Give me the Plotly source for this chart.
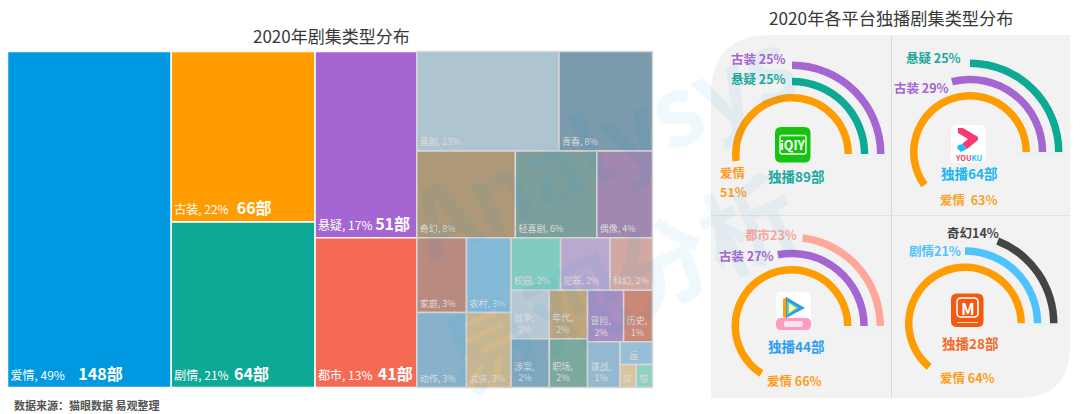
import plotly.graph_objects as go

W, H = 1080, 414
FONT = "Noto Sans CJK SC"
NB = "\u00a0"

# treemap tiles (area ~ number of dramas)
tile_labels = ["爱情", "古装", "剧情", "悬疑", "都市", "喜剧", "青春", "奇幻", "轻喜剧", "偶像",
               "家庭", "动作", "农村", "武侠", "校园", "犯罪", "科幻", "战争", "涉案", "年代", "职场",
               "冒险", "历史", "谍战", "运", "穿", "惊"]
tile_values = [148, 66, 64, 51, 41, 38, 25, 23, 19, 13,
               10, 10, 9, 9, 7, 7, 6, 5, 5, 5, 5,
               5, 4, 4, 2, 1, 1]
tile_text = [f"爱情, 49%{NB*5}<b><span style='font-size:16px'>148部</span></b>",
             f"古装, 22%{NB*3}<b><span style='font-size:16px'>66部</span></b>",
             f"剧情, 21%{NB*2}<b><span style='font-size:16px'>64部</span></b>",
             f"悬疑, 17%{NB}<b><span style='font-size:16px'>51部</span></b>",
             f"都市, 13%{NB*2}<b><span style='font-size:16px'>41部</span></b>",
             "喜剧, 13%", "青春, 8%", "奇幻, 8%", "轻喜剧, 6%", "偶像, 4%",
             "家庭, 3%", "动作, 3%", "农村, 3%", "武侠, 3%", "校园, 2%", "犯罪, 2%", "科幻, 2%",
             f"战争,<br>{NB*2}2%", f"涉案,<br>{NB*2}2%", f"年代,<br>{NB*2}2%", f"职场,<br>{NB*2}2%",
             f"冒险,<br>{NB*2}2%", f"历史,<br>{NB*2}1%", f"谍战,<br>{NB*2}1%", f"{NB*3}运", "穿", "惊"]
tile_colors = ["#0098E0", "#FF9C00", "#0CAA95", "#A566D2", "#F56A55",
               "#AFC4D1", "#7B9AAB", "#AD9878", "#7C9F9B", "#A088AE",
               "#B98A80", "#88B2CB", "#85B9D8", "#D2B88D", "#82CBC0", "#B9A9CF", "#D1A9A2",
               "#B8C8D4", "#7FA8BE", "#BFA67C", "#7BA99E",
               "#A88EC2", "#C98878", "#94B8CF", "#99BFD6", "#DCC3A0", "#90D0C5"]

# nesting of the tiles: (node, parent), children listed in drawing order
tree = [("root", ""), ("爱情", "root"),
        ("g1", "root"), ("古装", "g1"), ("剧情", "g1"),
        ("g2", "root"), ("悬疑", "g2"), ("都市", "g2"),
        ("others", "root"),
        ("row1", "others"), ("喜剧", "row1"), ("青春", "row1"),
        ("row2", "others"), ("奇幻", "row2"), ("轻喜剧", "row2"), ("偶像", "row2"),
        ("row3", "others"),
        ("col1", "row3"), ("家庭", "col1"), ("动作", "col1"),
        ("col2", "row3"), ("农村", "col2"), ("武侠", "col2"),
        ("right", "row3"),
        ("top", "right"), ("校园", "top"), ("犯罪", "top"), ("科幻", "top"),
        ("bottom", "right"),
        ("c_war", "bottom"), ("战争", "c_war"), ("涉案", "c_war"),
        ("c_era", "bottom"), ("年代", "c_era"), ("职场", "c_era"),
        ("third", "bottom"),
        ("r_adv", "third"), ("冒险", "r_adv"), ("历史", "r_adv"),
        ("r_spy", "third"), ("谍战", "r_spy"),
        ("q", "r_spy"), ("运", "q"),
        ("pair", "q"), ("穿", "pair"), ("惊", "pair")]

# ring panels: arcs as drawn in the picture (percent of a full circle), labels as printed
platform_names = ["iqiyi", "youku", "tencent", "mango"]
iqiyi_arcs = [52, 25, 25]
youku_arcs = [60, 29, 25]
tencent_arcs = [66, 28, 23]
mango_arcs = [64, 25, 19]
iqiyi_colors = ["#FF9C00", "#0CAA95", "#A566D2"]
youku_colors = ["#FF9C00", "#A566D2", "#0CAA95"]
tencent_colors = ["#FF9C00", "#A566D2", "#FFA79B"]
mango_colors = ["#FF9C00", "#4FC3FF", "#444444"]


def px(x):
    return x / W


def py(y):
    return 1 - y / H


def rounded(x0, y0, x1, y1, r):
    return (f"M{px(x0 + r)},{py(y0)} L{px(x1 - r)},{py(y0)} Q{px(x1)},{py(y0)} {px(x1)},{py(y0 + r)} "
            f"L{px(x1)},{py(y1 - r)} Q{px(x1)},{py(y1)} {px(x1 - r)},{py(y1)} L{px(x0 + r)},{py(y1)} "
            f"Q{px(x0)},{py(y1)} {px(x0)},{py(y1 - r)} L{px(x0)},{py(y0 + r)} Q{px(x0)},{py(y0)} {px(x0 + r)},{py(y0)} Z")


def poly(points):
    return "M" + " L".join(f"{px(x)},{py(y)}" for x, y in points) + " Z"


def path_shape(path, color, line_color=None, line_width=0, layer="above"):
    return dict(type="path", xref="paper", yref="paper", path=path, fillcolor=color, layer=layer,
                line=dict(color=line_color or color, width=line_width))


def hline(x0, x1, y, color, layer="above"):
    return dict(type="line", xref="paper", yref="paper", x0=px(x0), x1=px(x1), y0=py(y), y1=py(y),
                line=dict(color=color, width=1), layer=layer)


def note(x, y, text, color, size=12.5, anchor="center", bold=True, angle=0, opacity=1):
    return dict(x=px(x), y=py(y), xref="paper", yref="paper", text=f"<b>{text}</b>" if bold else text,
                showarrow=False, xanchor=anchor, yanchor="middle", textangle=angle, opacity=opacity,
                font=dict(family=FONT, size=size, color=color))


fig = go.Figure()

# treemap, nested groups + slice/dice packing reproduces the original tile arrangement
CLEAR = "rgba(0,0,0,0)"
ids, parents, values, texts, fills, line_colors, line_widths, text_colors, text_sizes = [], [], [], [], [], [], [], [], []
for node, parent in tree:
    ids.append(node)
    parents.append(parent)
    if node in tile_labels:
        i = tile_labels.index(node)
        top_five = i < 5
        values.append(tile_values[i])
        texts.append(tile_text[i])
        fills.append(tile_colors[i])
        line_colors.append("#FFFFFF" if top_five else "#D6D6D6")
        line_widths.append(1.5)
        text_colors.append("#FFFFFF" if top_five else "#DCDCDC")
        text_sizes.append(12 if top_five else 9)
    else:
        values.append(0)
        texts.append("")
        fills.append(CLEAR)
        line_colors.append(CLEAR)
        line_widths.append(0)
        text_colors.append("#FFFFFF")
        text_sizes.append(9)

fig.add_trace(go.Treemap(
    ids=ids,
    labels=ids,
    parents=parents,
    values=values,
    branchvalues="remainder",
    sort=False,
    text=texts,
    texttemplate="%{text}",
    textposition="bottom left",
    textfont=dict(family=FONT, size=text_sizes, color=text_colors),
    hoverinfo="skip",
    tiling=dict(packing="slice-dice", pad=0),
    pathbar=dict(visible=False),
    marker=dict(colors=fills, pad=dict(t=0, l=0, r=0, b=0),
                line=dict(color=line_colors, width=line_widths)),
    domain=dict(x=[px(7.5), px(652.5)], y=[py(387.5), py(51.5)]),
))

# rings
R = 95
RING_BASE = [52.5, 68.8, 85]
RING_WIDTH = 7.5
centers = {"iqiyi": (792, 154), "youku": (970, 152), "tencent": (791.5, 326), "mango": (965, 323.5)}
arcs = {"iqiyi": iqiyi_arcs, "youku": youku_arcs, "tencent": tencent_arcs, "mango": mango_arcs}
colors = {"iqiyi": iqiyi_colors, "youku": youku_colors, "tencent": tencent_colors, "mango": mango_colors}
polar_layout = {}
for i, name in enumerate(platform_names):
    sub = "polar" if i == 0 else f"polar{i + 1}"
    cx, cy = centers[name]
    fig.add_trace(go.Barpolar(
        r=[RING_WIDTH] * 3,
        base=RING_BASE,
        theta=[v * 1.8 for v in arcs[name]],
        width=[v * 3.6 for v in arcs[name]],
        marker=dict(color=colors[name], line=dict(width=0)),
        hoverinfo="skip",
        subplot=sub,
    ))
    polar_layout[sub] = dict(
        domain=dict(x=[px(cx - R), px(cx + R)], y=[py(cy + 0.866 * R), py(cy - R)]),
        sector=[0, 240],
        bgcolor="rgba(0,0,0,0)",
        radialaxis=dict(visible=False, range=[0, R]),
        angularaxis=dict(visible=False),
    )

# grey panel with two rounded corners, and the cross inside it
panel = (f"M{px(771)},{py(35)} L{px(1070)},{py(35)} L{px(1070)},{py(346)} Q{px(1070)},{py(398)} {px(1018)},{py(398)} "
         f"L{px(711)},{py(398)} L{px(711)},{py(95)} Q{px(711)},{py(35)} {px(771)},{py(35)} Z")
shapes = [
    path_shape(panel, "#F2F2F2", layer="below"),
    dict(type="line", xref="paper", yref="paper", x0=px(891.5), x1=px(891.5), y0=py(35), y1=py(398),
         line=dict(color="#D9D9D9", width=1), layer="below"),
    hline(711, 1070, 215.5, "#E2E2E2", layer="below"),
    # pale hairlines under the ring ends
    hline(838, 890, 155, "#D8F5F2"),
    hline(1017, 1068, 153.5, "#D8F5F2"),
    hline(838, 890, 328, "#D8F5F2"),
    hline(1012, 1063, 325, "#D8F5F2"),
]

# platform logos
shapes += [
    path_shape(rounded(775, 127, 810.5, 162.5, 6), "#14C40F"),
    path_shape(rounded(780, 135.5, 806, 154, 2), CLEAR, "#FFFFFF", 1.3),

    path_shape(rounded(951, 125, 986, 163, 6), "#FFFFFF"),
    path_shape(poly([(958, 128), (963, 128), (978, 137), (978, 140), (967, 149), (962, 144), (968, 139), (958, 133)]), "#F9396F"),
    path_shape(poly([(962, 144), (967, 149), (961, 152), (957, 148), (958, 145.5)]), "#14C0FF"),

    path_shape(rounded(776, 292, 811, 325, 6), "#FFFFFF"),
    path_shape(poly([(783, 299), (787, 297), (787, 318), (783, 317)]), "#FF9C1A"),
    path_shape(poly([(786, 297), (805, 308), (786, 318)]), "#2D9BF0"),
    path_shape(poly([(787, 301), (799, 308), (787, 315)]), "#7ED957"),
    path_shape(poly([(789, 303), (796, 308), (789, 313)]), "#F2FBD8"),
    path_shape(rounded(776, 318, 811, 330, 5), "#FF9AC2"),
    path_shape(rounded(784, 321, 803, 327, 2), "#FDE3EE"),

    path_shape(rounded(951, 293.5, 983.5, 327, 6), "#F4590F"),
    path_shape(rounded(957, 298, 978, 317, 4), CLEAR, "#FFFFFF", 1.6),
    hline(957, 978, 322.5, "#FFD9C4"),
]

notes = [
    note(331, 36, "2020年剧集类型分布", "#383838", 17, bold=False),
    note(891, 18, "2020年各平台独播剧集类型分布", "#383838", 17.2, bold=False),
    note(12, 405, "数据来源：猫眼数据 易观整理", "#555555", 11, anchor="left"),

    # iqiyi
    note(788, 59, "古装 25%", "#A566D2", anchor="right"),
    note(788, 78.5, "悬疑 25%", "#1BAA98", anchor="right"),
    note(733, 172.5, "爱情", "#FF9C1A"),
    note(733, 191.5, "51%", "#FF9C1A"),
    note(796, 175.5, "独播89部", "#1BA8A0", 13.5),
    note(793, 144.5, "iQIY", "#FFFFFF", 12.5),

    # youku
    note(963, 58, "悬疑 25%", "#1BAA98", anchor="right"),
    note(951, 87, "古装 29%", "#A566D2", anchor="right"),
    note(969.5, 173, "独播64部", "#19B5F5", 13.5),
    note(968, 199, "爱情  63%", "#F9A32A"),
    note(968.5, 157.5, "YOU<span style='color:#14C0FF'>KU</span>", "#F9396F", 7.5),

    # tencent
    note(799, 234.5, "都市23%", "#F9A79B", anchor="right"),
    note(776, 255.5, "古装 27%", "#A566D2", anchor="right"),
    note(796.5, 345.5, "独播44部", "#2E9FEF", 13.5),
    note(794, 380, "爱情 66%", "#FF9C1A"),

    # mango
    note(1001, 232.5, "奇幻14%", "#444444", anchor="right"),
    note(963, 250, "剧情21%", "#4FC3FF", anchor="right"),
    note(970, 342.5, "独播28部", "#F56A2A", 13.5),
    note(967.5, 377.5, "爱情 64%", "#FF9C1A"),
    note(967.5, 307.5, "M", "#FFFFFF", 16),

    # watermark
    note(600, 140, "Analysys", "#0098E0", 95, angle=-25, opacity=0.06),
    note(617, 280, "易观分析", "#0098E0", 95, angle=-25, opacity=0.06),
]

fig.update_layout(
    width=W, height=H,
    margin=dict(l=0, r=0, t=0, b=0),
    paper_bgcolor="#FFFFFF",
    showlegend=False,
    font=dict(family=FONT),
    shapes=shapes,
    annotations=notes,
    **polar_layout,
)

# page is photographed at exactly the figure size, so drop the default body margin
fig.write_html("out.html", config=dict(displayModeBar=False),
               post_script="document.body.style.margin='0';")
